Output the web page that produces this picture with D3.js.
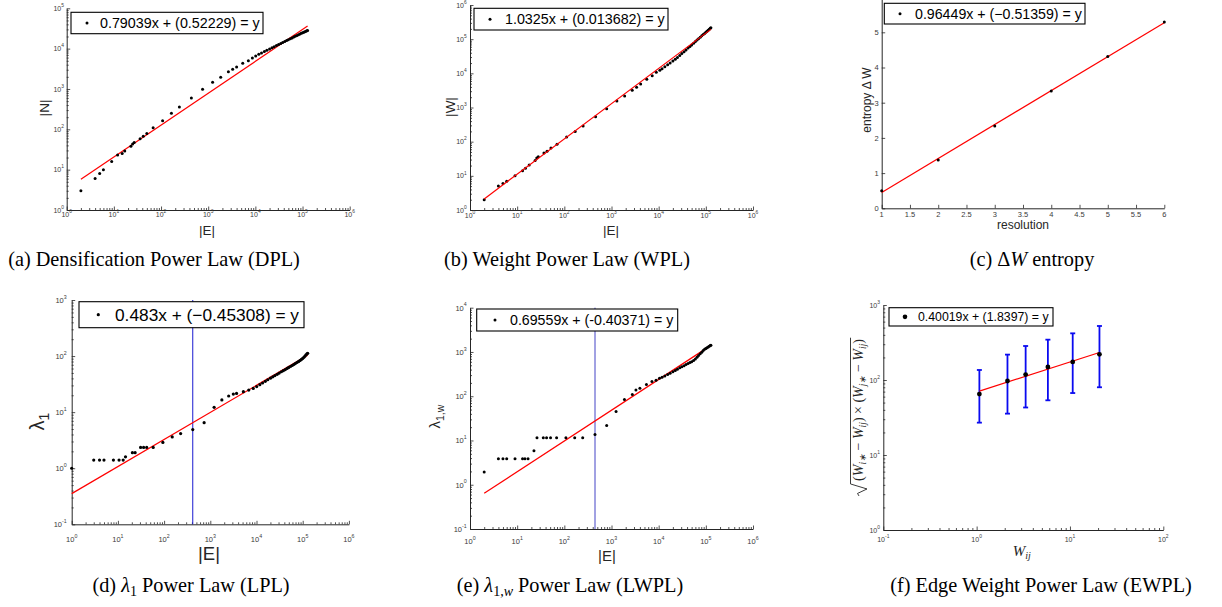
<!DOCTYPE html>
<html><head><meta charset="utf-8">
<script src="https://cdn.jsdelivr.net/npm/d3@7"></script>
<style>
body{margin:0;background:#fff;}
svg{display:block;}
text{font-family:"Liberation Sans",Arial,Helvetica,sans-serif;}
.serif{font-family:"Liberation Serif","Times New Roman",serif;}
</style></head><body>
<svg id="chart" width="1222" height="607"></svg>
<script>
// ---------------- DATA ----------------
// shared |E| values for the dense tail of the growth curves
const tailE = [11800,13500,15500,17500,20000,22500,25000,28000,31000,34500,38000,42000,46000,50000,55000,60000,65000,70000,76000,82000,88000,94000,100000,106000,112000,118000,124000,128000];

// (a) DPL
const dplE = [2,4,5,6,9,12,15,17,23,25,27,36,42,50,68,108,166,245,440,760,1240,1840,2680,3300,4000,5400,7100,8640,10160];
const dplN = [3,6,8,10,16,23,25,29,38,43,47,58,67,79,110,164,250,358,598,980,1460,1950,2690,3080,3510,4330,5040,5870,6580];
const dplTailN = [7240,7820,8470,9080,9820,10500,11170,11900,12620,13430,14190,15030,15850,16630,17580,18450,19320,20180,21180,22130,23010,23930,24770,25590,26360,27160,27860,28310];

// (b) WPL
const wplE = [2,4,5,6,9,13,15,18,24,26,28,37,43,52,70,112,170,250,460,790,1300,1900,2750,3400,4150,5600,7300,8900,10600];
const wplW = [2,5,6,7,10,14,16.6,20.7,28,33,36,46.6,52,65,83.5,137,200,288,537,925,1550,2170,3180,3890,4870,6670,8530,10700,12300];
const wplTailW = [13710,15630,17910,20230,23070,25880,28970,33270,37760,43050,48530,54830,61380,67920,76380,85110,93970,102800,113800,125000,136100,147600,159600,171000,183200,195400,207500,215800];

// (c) entropy
const resolution = [1,2,3,4,5,6];
const entropyDW = [0.5,1.37,2.34,3.33,4.31,5.29];

// (d) LPL
const lplE = [1,3,4,5,8,10.6,13,14.6,20.6,23.6,31,36,42,58,94,150,228,417,735,1210,1780,2500,3150,3700,5200,6800,8500,10100];
const lplL = [1,1.4,1.4,1.4,1.4,1.4,1.4,1.6,1.89,1.89,2.35,2.35,2.35,2.35,2.88,3.62,4.15,4.88,6.5,12.2,16.5,19.4,21,21.6,23.2,24.8,26.5,28.6];
const lplTailL = [30.9,33.1,35.5,37.8,40.3,42.7,44.9,47.3,49.8,52.5,55.0,57.5,60.3,62.7,65.6,68.5,71.3,74.1,77.3,80.4,83.6,87.1,90.8,95.1,100,105.2,109.6,112.2];

// (e) LWPL
const lwplE = [2,4,5,6,9,13,14.6,17,22.7,26.3,35.8,42,51,68.6,108,166,245,447,790,1250,1880,2760,3300,4000,5500,7200,8800,10400];
const lwplL = [1.93,3.86,3.86,3.86,3.86,3.86,3.86,3.86,5.85,11.5,11.5,11.5,11.5,11.5,11.5,11.5,11.5,13.6,21.8,45,84,109,139,151,183,214,230,255];
const lwplTailL = [269,288,309,331,355,380,407,437,462,490,519,550,575,603,638,692,759,832,912,989,1072,1148,1202,1245,1288,1349,1396,1413];

// (f) EWPL
const ewplW = [1.07,2.14,3.35,5.8,10.7,20.7];
const ewplMean = [65,97,118,149,174,220];
const ewplLow = [27,35.6,43,53.6,67,80];
const ewplHigh = [136,218,284,345,419,525];

// vertical marker lines (|E| value)
const markerE = [417, 447];

// fitted coefficients (a..f)
const fitSlope = [0.79039, 1.0325, 0.96449, 0.483, 0.69559, 0.40019];
const fitIntercept = [0.52229, 0.013682, -0.51359, -0.45308, -0.40371, 1.8397];
const legendText = ["0.79039x + (0.52229) = y","1.0325x + (0.013682) = y","0.96449x + (\u22120.51359) = y","0.483x + (\u22120.45308) = y","0.69559x + (-0.40371) = y","0.40019x + (1.8397) = y"];

// ---------------- DRAWING ----------------
const svg = d3.select("#chart");
const AX = "#262626";

function logMajors(d){const o=[];for(let e=Math.round(Math.log10(d[0]));e<=Math.round(Math.log10(d[1]));e++)o.push(Math.pow(10,e));return o;}
function logMinors(d){const o=[];for(let e=Math.floor(Math.log10(d[0]));e<Math.ceil(Math.log10(d[1]));e++)for(let k=2;k<=9;k++){const v=k*Math.pow(10,e);if(v>d[0]*1.0001&&v<d[1]*0.9999)o.push(v);}return o;}

function tickLabel(g,px,py,anchor,v,isLog,fs){
  const t=g.append("text").attr("x",px).attr("y",py).attr("text-anchor",anchor).attr("font-size",fs).attr("fill","#3a3a3a");
  if(isLog){const e=Math.round(Math.log10(v));t.append("tspan").text("10");t.append("tspan").attr("dy",-fs*0.55).attr("font-size",fs*0.7).text(e<0?"-"+(-e):String(e));}
  else t.text(String(v));
}

function panel(c){
  const x=(c.xLog?d3.scaleLog():d3.scaleLinear()).domain(c.xDomain).range(c.xRange);
  const y=(c.yLog?d3.scaleLog():d3.scaleLinear()).domain(c.yDomain).range(c.yRange);
  const g=svg.append("g");
  const y0=c.yRange[0], x0=c.xRange[0];
  const xMaj=c.xTicks||logMajors(c.xDomain), yMaj=c.yTicks||logMajors(c.yDomain);
  const style=s=>{s.select(".domain").attr("stroke",AX).attr("stroke-width",1);s.selectAll("line").attr("stroke",AX).attr("stroke-width",0.8);s.selectAll("text").remove();};
  g.append("g").attr("transform",`translate(0,${y0})`).call(d3.axisBottom(x).tickValues(xMaj).tickSizeInner(-3.5).tickSizeOuter(0).tickFormat(()=>"")).call(style);
  g.append("g").attr("transform",`translate(${x0},0)`).call(d3.axisLeft(y).tickValues(yMaj).tickSizeInner(-3.5).tickSizeOuter(0).tickFormat(()=>"")).call(style);
  if(c.xLog) g.append("g").attr("transform",`translate(0,${y0})`).call(d3.axisBottom(x).tickValues(logMinors(c.xDomain)).tickSizeInner(-2).tickSizeOuter(0).tickFormat(()=>"")).call(style).call(s=>s.select(".domain").remove());
  if(c.yLog) g.append("g").attr("transform",`translate(${x0},0)`).call(d3.axisLeft(y).tickValues(logMinors(c.yDomain)).tickSizeInner(-2).tickSizeOuter(0).tickFormat(()=>"")).call(style).call(s=>s.select(".domain").remove());
  xMaj.forEach(v=>tickLabel(g,x(v),y0+c.xLabOff,"middle",v,c.xLog,c.tfs));
  yMaj.forEach(v=>tickLabel(g,x0-c.yLabGap,y(v)+c.tfs*0.38,"end",v,c.yLog,c.tfs));
  return {g,x,y};
}

function dots(p,xs,ys,r){
  p.g.append("g").selectAll("circle").data(xs.map((v,i)=>[v,ys[i]])).join("circle")
    .attr("cx",d=>p.x(d[0])).attr("cy",d=>p.y(d[1])).attr("r",r).attr("fill","#000");
}
function fitLine(p,k,xmin,xmax,isLog){
  const f=v=>isLog?Math.pow(10,fitSlope[k]*Math.log10(v)+fitIntercept[k]):fitSlope[k]*v+fitIntercept[k];
  const line=d3.line().x(d=>p.x(d)).y(d=>p.y(f(d)));
  p.g.append("path").attr("d",line([xmin,xmax])).attr("fill","none").attr("stroke","#ff0000").attr("stroke-width",1.2);
}
function legend(k,bx0,by0,bx1,by1,dotX,textX,fs,r){
  const g=svg.append("g");
  g.append("rect").attr("x",bx0).attr("y",by0).attr("width",bx1-bx0).attr("height",by1-by0).attr("fill","#fff").attr("stroke","#000").attr("stroke-width",1.1);
  const cy=(by0+by1)/2;
  g.append("circle").attr("cx",dotX).attr("cy",cy).attr("r",r).attr("fill","#000");
  g.append("text").attr("x",textX).attr("y",cy+fs*0.36).attr("font-size",fs).attr("fill","#000").text(legendText[k]);
}
function xlab(x,y,fs,txt){svg.append("text").attr("x",x).attr("y",y).attr("text-anchor","middle").attr("font-size",fs).attr("fill","#262626").text(txt);}
function ylab(x,y,fs){return svg.append("text").attr("transform",`translate(${x},${y}) rotate(-90)`).attr("text-anchor","middle").attr("dy",fs*0.35).attr("font-size",fs).attr("fill","#262626");}

// (a)
const pa=panel({xLog:true,yLog:true,xDomain:[1,1e6],xRange:[66.7,349.7],yDomain:[1,1e5],yRange:[210,8.3],xLabOff:7,yLabGap:2.7,tfs:7});
fitLine(pa,0,2,128000,true);
dots(pa,dplE.concat(tailE),dplN.concat(dplTailN),1.5);
legend(0,71,12.3,263,33.7,87,100,14.3,1.5);
xlab(207,234.5,13.5,"|E|"); ylab(44,108,13.5).text("|N|");

// (b)
const pb=panel({xLog:true,yLog:true,xDomain:[1,1e6],xRange:[470,753],yDomain:[1,1e6],yRange:[210,5],xLabOff:8,yLabGap:3.3,tfs:7});
dots(pb,wplE.concat(tailE),wplW.concat(wplTailW),1.5);
fitLine(pb,1,2,128000,true);
legend(1,474,8.3,668,30,490,505,14.3,1.5);
xlab(611,234.5,13.5,"|E|"); ylab(450,107,13.5).text("|W|");

// (c)
const pc=panel({xLog:false,yLog:false,xDomain:[1,6],xRange:[881.7,1164.3],yDomain:[0,6],yRange:[208.3,-2.9],xTicks:[1,1.5,2,2.5,3,3.5,4,4.5,5,5.5,6],yTicks:[0,1,2,3,4,5,6],xLabOff:8.5,yLabGap:3,tfs:7.5});
fitLine(pc,2,1,6,false);
dots(pc,resolution,entropyDW,1.5);
legend(2,884.3,3.3,1085,24,900,915,14.2,1.5);
xlab(1023,229,12,"resolution"); ylab(866.5,100,12).text("entropy \u0394 W");

// (d)
const pd=panel({xLog:true,yLog:true,xDomain:[1,1e6],xRange:[71.7,348.9],yDomain:[0.1,1e3],yRange:[524.3,300],xLabOff:17.5,yLabGap:5,tfs:7.5});
pd.g.append("line").attr("x1",pd.x(markerE[0])).attr("x2",pd.x(markerE[0])).attr("y1",300).attr("y2",524.3).attr("stroke","#1a1ad0").attr("stroke-width",1);
fitLine(pd,3,1,128000,true);
dots(pd,lplE.concat(tailE),lplL.concat(lplTailL),1.6);
legend(3,79,301.7,304,327.7,98.3,115,17.3,1.6);
xlab(209,560,18.5,"|E|");
{const t=ylab(37,421.7,20);t.append("tspan").text("\u03bb");t.append("tspan").attr("font-size",14).attr("dy",5).text("1");}

// (e)
const pe=panel({xLog:true,yLog:true,xDomain:[1,1e6],xRange:[470,753],yDomain:[0.1,1e4],yRange:[529,307.7],xLabOff:15,yLabGap:3.3,tfs:7.5});
pe.g.append("line").attr("x1",pe.x(markerE[1])).attr("x2",pe.x(markerE[1])).attr("y1",307.7).attr("y2",529).attr("stroke","#3030c0").attr("stroke-width",0.9);
fitLine(pe,4,2,128000,true);
dots(pe,lwplE.concat(tailE),lwplL.concat(lwplTailL),1.5);
legend(4,476.7,309,677.7,331,495,510,14.2,1.5);
xlab(607,561,15,"|E|");
{const t=ylab(435,416.7,15);t.append("tspan").text("\u03bb");t.append("tspan").attr("font-size",10.5).attr("dy",4).text("1,w");}

// (f)
const pf=panel({xLog:true,yLog:true,xDomain:[0.1,100],xRange:[883.3,1163.3],yDomain:[1,1e3],yRange:[530,305],xLabOff:12,yLabGap:3.3,tfs:7});
{
  const eg=pf.g.append("g").attr("stroke","#0a0af0").attr("stroke-width",1.8).attr("fill","none");
  ewplW.forEach((w,i)=>{
    const cx=pf.x(w);
    eg.append("line").attr("x1",cx).attr("x2",cx).attr("y1",pf.y(ewplLow[i])).attr("y2",pf.y(ewplHigh[i]));
    eg.append("line").attr("x1",cx-2.5).attr("x2",cx+2.5).attr("y1",pf.y(ewplLow[i])).attr("y2",pf.y(ewplLow[i]));
    eg.append("line").attr("x1",cx-2.5).attr("x2",cx+2.5).attr("y1",pf.y(ewplHigh[i])).attr("y2",pf.y(ewplHigh[i]));
  });
}
fitLine(pf,5,ewplW[0],ewplW[ewplW.length-1],true);
dots(pf,ewplW,ewplMean,2.4);
legend(5,889,307.7,1053,326,905,918,12.3,2.3);
{
  const t=svg.append("text").attr("class","serif").attr("x",1021.7).attr("y",556).attr("text-anchor","middle").attr("font-size",15).attr("fill","#262626");
  t.append("tspan").attr("font-style","italic").text("W");
  t.append("tspan").attr("font-style","italic").attr("font-size",10).attr("dy",3).text("ij");
}
{
  const gl=svg.append("g").attr("transform","translate(858,410) rotate(-90)");
  const t=gl.append("text").attr("class","serif").attr("text-anchor","middle").attr("y",5).attr("font-size",14).attr("fill","#262626");
  const W=()=>t.append("tspan").attr("font-style","italic").text("W");
  const sub=s=>{t.append("tspan").attr("font-style","italic").attr("font-size",9.5).attr("dy",3).text(s);};
  const n=s=>{t.append("tspan").attr("dy",-3).text(s);};
  t.append("tspan").text("(");W();sub("i\u2217");n(" \u2212 ");W();sub("ij");n(")  \u00d7  (");W();sub("j\u2217");n(" \u2212 ");W();sub("ij");n(")");
  const b=t.node().getBBox();
  const top=b.y-0.5, xs=b.x-2, xe=b.x+b.width+1;
  gl.append("path").attr("d",`M${xs-13},1 L${xs-10.5},-0.5 L${xs-6},9 L${xs-1},${top} L${xe},${top}`).attr("fill","none").attr("stroke","#262626").attr("stroke-width",0.9);
}

// ---------------- CAPTIONS ----------------
function caption(cx,y,parts){
  const t=svg.append("text").attr("class","serif").attr("x",cx).attr("y",y).attr("text-anchor","middle").attr("font-size",20.3).attr("fill","#000");
  parts.forEach(p=>{const s=t.append("tspan").text(p.t);if(p.i)s.attr("font-style","italic");if(p.fs)s.attr("font-size",p.fs);if(p.dy)s.attr("dy",p.dy);});
}
caption(154,266,[{t:"(a) Densification Power Law (DPL)"}]);
caption(567,266,[{t:"(b) Weight Power Law (WPL)"}]);
caption(1032,266,[{t:"(c) \u0394"},{t:"W",i:true},{t:" entropy"}]);
caption(191,592,[{t:"(d) "},{t:"\u03bb",i:true},{t:"1",fs:14,dy:4},{t:" Power Law (LPL)",dy:-4}]);
caption(570,592,[{t:"(e) "},{t:"\u03bb",i:true},{t:"1,",fs:14,dy:4},{t:"w",fs:14,i:true},{t:" Power Law (LWPL)",dy:-4}]);
caption(1041,592,[{t:"(f) Edge Weight Power Law (EWPL)"}]);
</script></body></html>
